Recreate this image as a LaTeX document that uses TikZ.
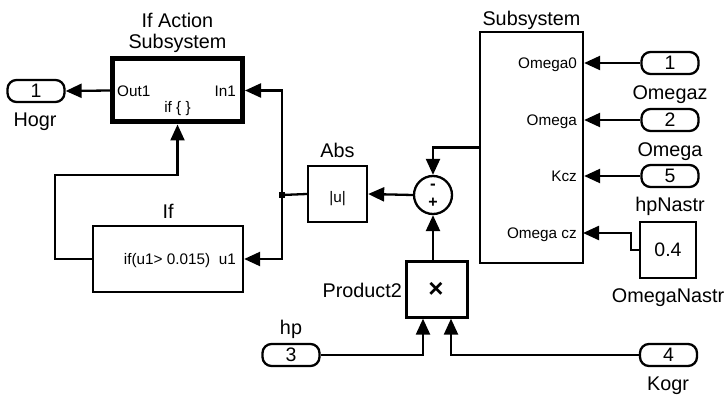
\documentclass[tikz,border=0pt]{standalone}
\usepackage{fontspec}
\setmainfont{Liberation Sans}
\usetikzlibrary{arrows.meta}

\begin{document}
\begin{tikzpicture}[x=1pt,y=-1pt,
    block/.style={draw,line width=2.3pt,inner sep=0pt},
    port/.style={draw,line width=2.3pt,rounded corners=9pt,minimum width=57pt,minimum height=22pt,inner sep=0pt,font=\fontsize{19.5}{21}\selectfont},
    txt/.style={inner sep=0pt,anchor=base,font=\fontsize{19.8}{21}\selectfont},
    small/.style={inner sep=0pt,anchor=base,font=\fontsize{15.3}{17}\selectfont},
    sig/.style={line width=2.3pt,-{Triangle[length=16pt,width=14pt]}},
    wire/.style={line width=2.3pt}
]
\useasboundingbox (0,0) rectangle (725,395);

% If Action Subsystem
\node[block,line width=5pt,minimum width=130pt,minimum height=63pt] (ifact) at (177.5,90.5) {};
\node[txt]                  (ifactA) at (177.5,28) {If Action};
\node[txt]                  (ifactB) at (177.5,49) {Subsystem};
\node[small,anchor=base west] (out1) at (117,96.5) {Out1};
\node[small,anchor=base east] (in1)  at (236,96.5) {In1};
\node[small]                (ifc)    at (177.5,113) {if \{ \}};

\node[port] (hogr)  at (36,91)  {1};
\node[txt]  (hogrL) at (35,127) {Hogr};

% If
\node[block,minimum width=150pt,minimum height=65.5pt] (ifblk) at (168,259) {};
\node[txt]                    (ifL)  at (168,219) {If};
\node[small,anchor=base east] (cond) at (236,265) {if(u1> 0.015)\ \ u1};

% Abs and sum
\node[block,minimum width=59pt,minimum height=56pt] (abs) at (337.5,194) {};
\node[txt]   (absL) at (337.5,158) {Abs};
\node[small] (absF) at (337.5,203) {|u|};
\node[draw,circle,line width=2.3pt,minimum size=38pt,inner sep=0pt] (sum) at (433,195) {};
\node[inner sep=0pt,font=\bfseries\fontsize{17}{17}\selectfont] (minus) at (433,187) {-};
\node[inner sep=0pt,font=\bfseries\fontsize{16}{16}\selectfont] (plus)  at (433,203) {+};
\node[fill,minimum size=6pt,inner sep=0pt] (junc) at (282,195) {};
\coordinate (bend) at (55,175);

% Subsystem
\node[block,minimum width=103pt,minimum height=231pt] (sub) at (531.5,147.5) {};
\node[txt] (subL) at (531.5,26) {Subsystem};
\node[small,anchor=base east] (pOm0) at (577,68.5)  {Omega0};
\node[small,anchor=base east] (pOm)  at (577,125.5) {Omega};
\node[small,anchor=base east] (pKcz) at (577,181.5) {Kcz};
\node[small,anchor=base east] (pCz)  at (577,238.5) {Omega cz};
\coordinate (czin) at (583,233);

\node[port] (omegaz)  at (670,63)  {1};
\node[txt]  (omegazL) at (670,100) {Omegaz};
\node[port] (omega)   at (670,120) {2};
\node[txt]  (omegaL)  at (670,157) {Omega};
\node[port] (hpn)     at (670,176) {5};
\node[txt]  (hpnL)    at (670,212) {hpNastr};
\node[block,minimum width=56pt,minimum height=56pt,font=\fontsize{19.5}{21}\selectfont] (cnst) at (668,250) {0.4};
\node[txt]  (cnstL)   at (668,302) {OmegaNastr};

% Product2
\node[block,minimum width=61pt,minimum height=56pt] (prod) at (437,289.5) {};
\node[inner sep=0pt,font=\bfseries\fontsize{26}{26}\selectfont] (prodF) at (436,290) {×};
\node[txt,anchor=base east] (prodL) at (402,297) {Product2};

\node[port] (hp)    at (291,355)   {3};
\node[txt]  (hpL)   at (291,334)   {hp};
\node[port] (kogr)  at (668.5,355) {4};
\node[txt]  (kogrL) at (668,390)   {Kogr};

\draw[sig]  (ifact.west) -- (hogr.east);
\draw[wire] (abs.west) -- (junc.center);
\draw[sig]  (junc.center) |- (ifact.east);
\draw[sig]  (junc.center) |- (ifblk.east);
\draw[sig]  (ifblk.west) -| (bend) -| (ifact.south);
\draw[sig]  (sum.west) -- (abs.east);
\draw[sig]  (sub.west) -| (sum.north);
\draw[sig]  (sum |- prod.north) -- (sum.south);
\draw[sig]  (hp.east) -| ([xshift=-14pt]prod.south);
\draw[sig]  (kogr.west) -| ([xshift=14pt]prod.south);
\draw[sig]  (omegaz.west) -- (omegaz.west -| sub.east);
\draw[sig]  (omega.west) -- (omega.west -| sub.east);
\draw[sig]  (hpn.west) -- (hpn.west -| sub.east);
\draw[sig]  (cnst.west) -- ++(-8,0) |- (czin);
\end{tikzpicture}
\end{document}
